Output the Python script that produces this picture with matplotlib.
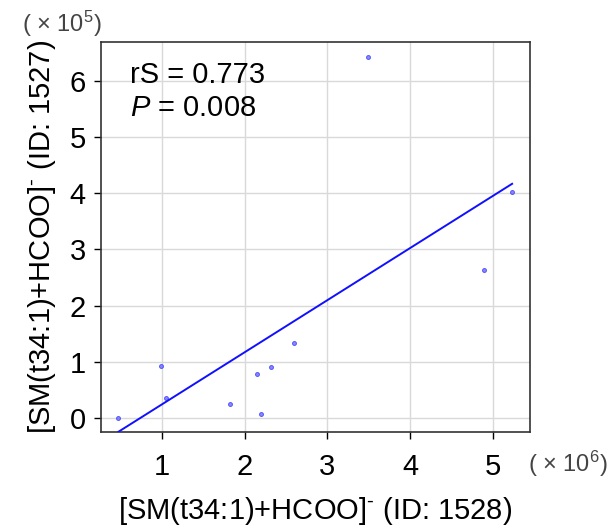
import numpy as np
import matplotlib
matplotlib.use("Agg")
import matplotlib.pyplot as plt

plt.rcParams['font.family'] = ['Liberation Sans', 'DejaVu Sans']
plt.rcParams['mathtext.fontset'] = 'custom'
plt.rcParams['mathtext.rm'] = 'Liberation Sans'
plt.rcParams['mathtext.it'] = 'Liberation Sans:italic'
plt.rcParams['mathtext.default'] = 'regular'

# data (x in 1e6, y in 1e5)
x_1528 = [0.475, 0.99, 1.05, 1.82, 2.15, 2.20, 2.32, 2.59, 3.49, 4.89, 5.23]
y_1527 = [0.00, 0.93, 0.36, 0.25, 0.78, 0.07, 0.90, 1.33, 6.42, 2.63, 4.02]
x_ticks = [1, 2, 3, 4, 5]
y_ticks = [0, 1, 2, 3, 4, 5, 6]

x = np.array(x_1528)
y = np.array(y_1527)

fig = plt.figure(figsize=(6.16, 5.31), dpi=100)
ax = fig.add_axes([101/616, 1-432/531, 429/616, 390/531])

ax.scatter(x, y, s=8, color='#6b6bff', alpha=0.8, edgecolors='#3b3bff', linewidths=0.7, zorder=3)

b, a = np.polyfit(x, y, 1)
xl = np.array([x.min(), x.max()])
ax.plot(xl, a + b*xl, color='#1010ff', lw=1.4, zorder=4)

ax.set_xlim(0.265, 5.446)
ax.set_ylim(-0.25, 6.69)
ax.set_xticks(x_ticks)
ax.set_yticks(y_ticks)
ax.tick_params(labelsize=21, length=5, width=1, color='black')
ax.tick_params(axis='x', pad=10)
ax.tick_params(axis='y', pad=6)
ax.grid(True, color='#d9d9d9', lw=1)
ax.set_axisbelow(True)
for s in ax.spines.values():
    s.set_color('#333333')
    s.set_linewidth(1.2)

lab = '[SM(t34:1)+HCOO]$^{\u2010}$ (ID: %s)'
ax.set_xlabel(lab % '1528', fontsize=21, labelpad=10)
ax.set_ylabel(lab % '1527', fontsize=21, labelpad=8)

ax.text(0.068, 0.895, 'rS = 0.773', transform=ax.transAxes, fontsize=21)
ax.text(0.068, 0.81, '$\\it{P}$ = 0.008', transform=ax.transAxes, fontsize=21)

fig.text(22/616, 1-32/531, '( \u00d7 10$^{5}$)', fontsize=17, color='#444444')
fig.text(528/616, 1-472/531, '( \u00d7 10$^{6}$)', fontsize=17, color='#444444')

fig.savefig('out.png', dpi=100)
